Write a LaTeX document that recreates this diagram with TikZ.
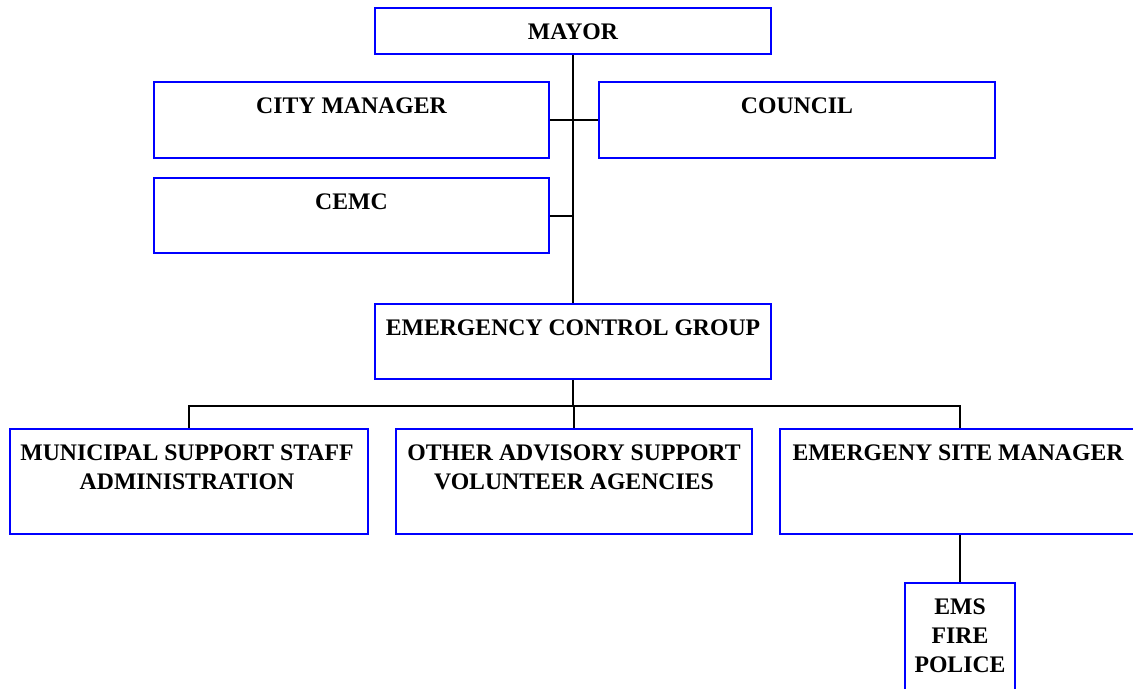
\documentclass[tikz,border=0pt]{standalone}
\usepackage{fontspec}
\setmainfont{Liberation Serif}
\begin{document}
\begin{tikzpicture}[x=0.75pt,y=-0.75pt,
  box/.style={draw=blue, line width=1.5pt, rectangle, inner sep=0pt, fill=white},
  txt/.style={anchor=north, inner sep=0pt, align=center, font=\fontsize{17.8}{21.75}\selectfont\bfseries},
  link/.style={draw=black, line width=1.5pt}]
\useasboundingbox (0,0) rectangle (1133,689);
\clip (0,0) rectangle (1133,689);
\fill[white] (0,0) rectangle (1133,689);
% boxes
\node[box, minimum width=297pt, minimum height=34.5pt] (mayor) at (573,31) {};
\node[box, minimum width=296.25pt, minimum height=57pt] (city) at (351.5,120) {};
\node[box, minimum width=297pt, minimum height=57pt] (council) at (797,120) {};
\node[box, minimum width=296.25pt, minimum height=56.25pt] (cemc) at (351.5,215.5) {};
\node[box, minimum width=297pt, minimum height=56.25pt] (ecg) at (573,341.5) {};
\node[box, minimum width=268.5pt, minimum height=78.75pt] (muni) at (189,481.5) {};
\node[box, minimum width=267pt, minimum height=78.75pt] (other) at (574,481.5) {};
\node[box, minimum width=270pt, minimum height=78.75pt] (esm) at (960,481.5) {};
\node[box, minimum width=82.5pt, minimum height=81.75pt] (ems) at (960,637.5) {};
% texts
\node[txt] at ([yshift=-12.5pt]mayor.north) {MAYOR};
\node[txt] at ([yshift=-12.5pt]city.north) {CITY MANAGER};
\node[txt] at ([yshift=-12.5pt]council.north) {COUNCIL};
\node[txt] at ([yshift=-12.5pt]cemc.north) {CEMC};
\node[txt] at ([yshift=-12.5pt]ecg.north) {EMERGENCY CONTROL GROUP};
\node[txt] at ([yshift=-12.5pt,xshift=-1.5pt]muni.north) {MUNICIPAL SUPPORT STAFF\\ADMINISTRATION};
\node[txt] at ([yshift=-12.5pt]other.north) {OTHER ADVISORY SUPPORT\\VOLUNTEER AGENCIES};
\node[txt] at ([yshift=-12.5pt,xshift=-1.5pt]esm.north) {EMERGENY SITE MANAGER};
\node[txt] at ([yshift=-12.5pt]ems.north) {EMS\\FIRE\\POLICE};
% connectors
\coordinate (bus) at (573,406);
\draw[link] (mayor.south) -- (ecg.north);
\draw[link] (city.east) -- (council.west);
\draw[link] (cemc.east) -- (cemc.east -| mayor.south);
\draw[link] (ecg.south) -- (bus);
\draw[link] (muni.north) |- (bus) -| (esm.north);
\draw[link] (bus) -- (bus -| other.north) -- (other.north);
\draw[link] (esm.south) -- (ems.north);
\end{tikzpicture}
\end{document}
